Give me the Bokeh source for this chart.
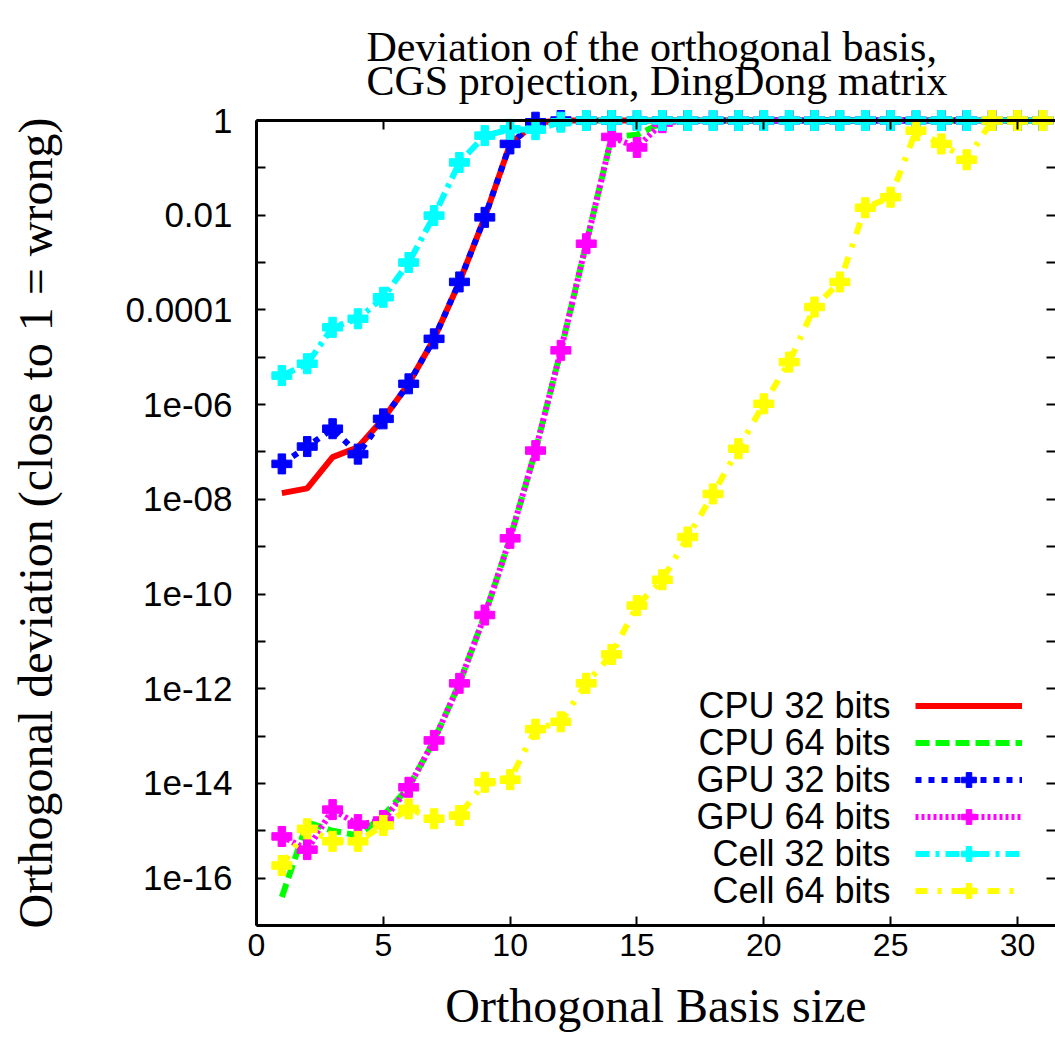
from bokeh.plotting import figure
from bokeh.models import (LogAxis, LinearAxis, FixedTicker, CustomJSTickFormatter,
                          Label, Legend, LegendItem, Range1d, ColumnDataSource)
from bokeh.embed import file_html
from bokeh.resources import INLINE

# ---------------- data ----------------
basis_size = list(range(1, 32))
cpu32 = [1.35e-8, 1.7e-8, 7.8e-8, 1.26e-7, 5e-7, 2.75e-6, 2.45e-5, 3.9e-4, 9e-3, 0.32, 0.9] + [1.0] * 20
cpu64 = [4e-17, 1.5e-15, 1e-15, 8e-16, 2.1e-15, 8.3e-15, 8.1e-14, 1.3e-12, 3.6e-11, 1.5e-9,
         1.07e-7, 1.4e-5, 2.5e-3, 0.45, 0.5, 0.9] + [1.0] * 15
gpu32 = [5.6e-8, 1.3e-7, 3.1e-7, 9e-8, 5e-7, 2.75e-6, 2.45e-5, 3.9e-4, 9e-3, 0.32, 0.92] + [1.0] * 20
gpu64 = [7.6e-16, 4e-16, 2.8e-15, 1.35e-15, 1.65e-15, 8.3e-15, 8.1e-14, 1.3e-12, 3.6e-11, 1.5e-9,
         1.07e-7, 1.4e-5, 2.5e-3, 0.45, 0.27, 0.9] + [1.0] * 15
cell32 = [4.1e-6, 7.3e-6, 4.3e-5, 6.5e-5, 1.85e-4, 1e-3, 9.8e-3, 0.13, 0.48, 0.65, 0.64, 0.92] + [1.0] * 19
cell64 = [1.85e-16, 1.1e-15, 6e-16, 6e-16, 1.3e-15, 2.9e-15, 1.8e-15, 2.1e-15, 1.06e-14, 1.2e-14,
          1.4e-13, 2e-13, 1.3e-12, 5.3e-12, 5.7e-11, 2e-10, 1.6e-9, 1.3e-8, 1.17e-7, 1.04e-6,
          7.9e-6, 1.15e-4, 3.9e-4, 0.0144, 0.024, 0.61, 0.32, 0.148, 1.0, 1.0, 1.0]

series_names = ["CPU 32 bits", "CPU 64 bits", "GPU 32 bits", "GPU 64 bits", "Cell 32 bits", "Cell 64 bits"]
series_values = [cpu32, cpu64, gpu32, gpu64, cell32, cell64]

x_ticks = [0, 5, 10, 15, 20, 25, 30]
y_major = [10.0 ** e for e in range(-16, 1, 2)]
y_minor = [10.0 ** e for e in range(-17, 0, 2)]

title_text = "Deviation of the orthogonal basis,\nCGS projection, DingDong matrix"
x_label = "Orthogonal Basis size"
y_label = "Orthogonal deviation (close to 1 = wrong)"

# ---------------- styles ----------------
colors = ["#ff0000", "#00ff00", "#0000ff", "#ff00ff", "#00ffff", "#ffff00"]
dashes = ["solid", "14 6", "6 7", "3 3", "14 6 4 6", "12 10 4 10"]
has_marker = [False, False, True, True, True, True]

p = figure(width=1055, height=1043, output_backend="svg", toolbar_location=None,
           x_range=Range1d(0, 31.5), y_range=Range1d(1e-17, 1), y_axis_type="log",
           min_border_left=256, min_border_right=0, min_border_top=120, min_border_bottom=118)
p.outline_line_color = None
p.grid.visible = False
p.background_fill_color = "white"
p.border_fill_color = "white"
p.title.text = title_text
p.title.text_font = "Liberation Serif"
p.title.text_font_size = "42px"
p.title.text_font_style = "normal"
p.title.text_line_height = 0.75
p.title.align = "left"
p.title.offset = 110
p.title.standoff = 33
p.title.text_color = "black"

xticker = FixedTicker(ticks=x_ticks, minor_ticks=[])
yticker = FixedTicker(ticks=y_major, minor_ticks=y_minor)
yfmt = CustomJSTickFormatter(code="""
const e = Math.round(Math.log10(tick));
if (e == 0) return "1";
if (e == -2) return "0.01";
if (e == -4) return "0.0001";
const a = Math.abs(e);
return "1e-" + (a < 10 ? "0" + a : "" + a);
""")
blank = CustomJSTickFormatter(code='return "";')

xaxis = p.xaxis[0]
yaxis = p.yaxis[0]
xaxis.ticker = xticker
yaxis.ticker = yticker
yaxis.formatter = yfmt

top_axis = LinearAxis(ticker=xticker, formatter=blank)
right_axis = LogAxis(ticker=yticker, formatter=blank)
p.add_layout(top_axis, "above")
p.add_layout(right_axis, "right")

for ax in [xaxis, yaxis, top_axis, right_axis]:
    ax.axis_line_width = 3
    ax.axis_line_color = "black"
    ax.major_tick_in = 9
    ax.major_tick_out = 0
    ax.minor_tick_in = 9
    ax.minor_tick_out = 0
    ax.major_tick_line_width = 2
    ax.minor_tick_line_width = 2
    ax.major_tick_line_color = "black"
    ax.minor_tick_line_color = "black"

for ax in [top_axis, right_axis]:
    ax.major_label_standoff = 0
right_axis.axis_line_color = None
top_axis.level = "overlay"

yaxis.major_label_text_font = "Liberation Sans"
yaxis.major_label_text_font_size = "35px"
yaxis.major_label_text_color = "black"
yaxis.major_label_standoff = 24
yaxis.axis_label = y_label
yaxis.axis_label_text_font = "Liberation Serif"
yaxis.axis_label_text_font_size = "48px"
yaxis.axis_label_text_font_style = "normal"
yaxis.axis_label_text_color = "black"
yaxis.axis_label_standoff = 60

xaxis.major_label_text_font = "Liberation Sans"
xaxis.major_label_text_font_size = "32px"
xaxis.major_label_text_color = "black"
xaxis.major_label_standoff = 8
xaxis.axis_label = x_label
xaxis.axis_label_text_font = "Liberation Serif"
xaxis.axis_label_text_font_size = "48px"
xaxis.axis_label_text_font_style = "normal"
xaxis.axis_label_text_color = "black"
xaxis.axis_label_standoff = 20

# ---------------- data renderers ----------------
items = []
for name, vals, color, dash, mk in zip(series_names, series_values, colors, dashes, has_marker):
    src = ColumnDataSource(dict(x=basis_size, y=vals))
    rends = [p.line("x", "y", source=src, line_color=color, line_width=6, line_dash=dash,
                    level="overlay")]
    if mk:
        rends.append(p.scatter("x", "y", source=src, marker="plus", size=20, color=color,
                               level="overlay"))
    items.append(LegendItem(label=" ", renderers=rends))

legend = Legend(items=items, location=(659, 16), orientation="vertical",
                glyph_width=107, glyph_height=37, spacing=0, padding=0, margin=0,
                border_line_color=None, background_fill_alpha=0,
                label_text_font_size="10px", label_standoff=0)
p.add_layout(legend)

for i, name in enumerate(series_names):
    p.add_layout(Label(x=634, y=220 - 37 * i, x_units="screen", y_units="screen", text=name,
                       text_align="right", text_baseline="middle", text_font="Liberation Sans",
                       text_font_size="36px", text_color="black"))

open("out.html", "w").write(file_html(p, INLINE))
